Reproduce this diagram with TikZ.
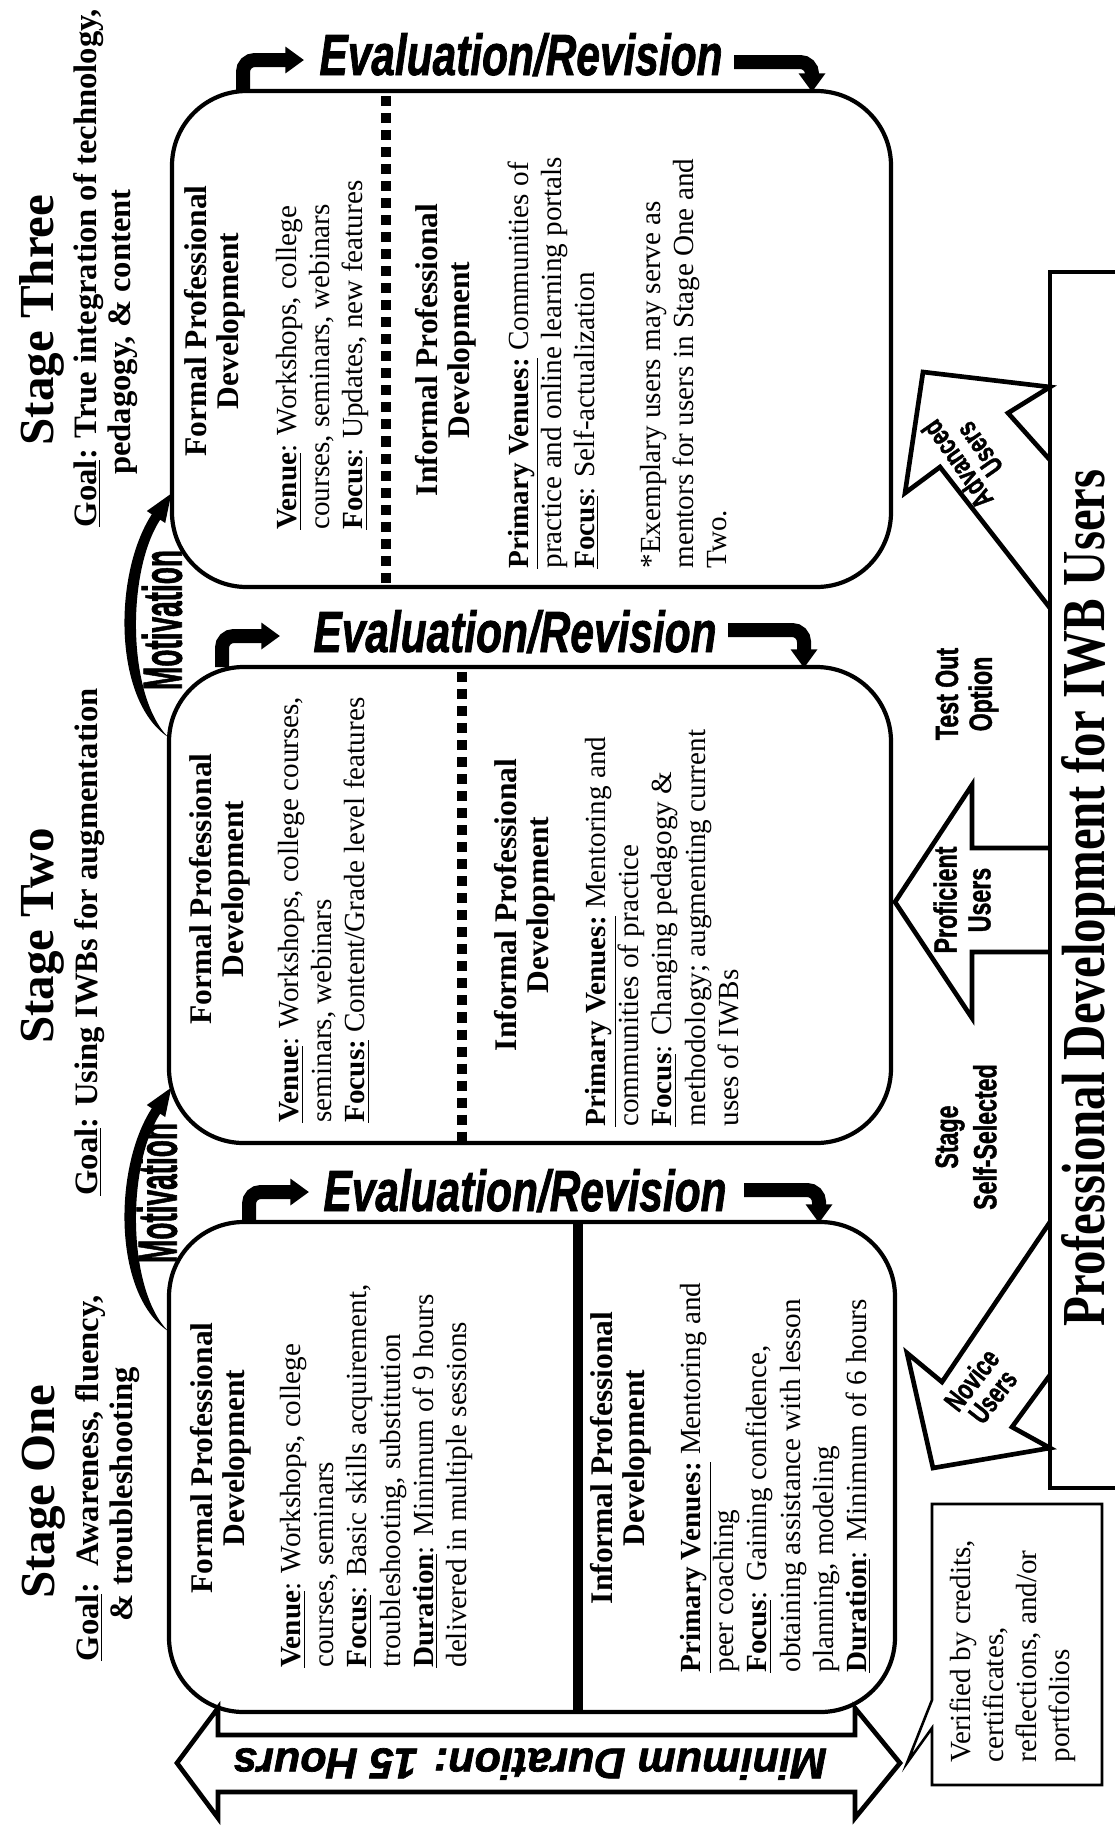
\documentclass[tikz,border=0pt]{standalone}
\usepackage{fontspec}
\usepackage{graphicx}
\setmainfont{Liberation Serif}
\setsansfont{Liberation Sans}
\newfontfamily\condf[FakeStretch=0.72, FakeBold=1.2]{Liberation Sans}
\newfontfamily\heavyf[FakeBold=1.6]{Liberation Sans}
\usetikzlibrary{arrows.meta,fit,calc}
\newlength\F \setlength\F{0.4287pt}
\tikzset{
  stagebox/.style={draw, line width=1.8pt, rounded corners=32pt, inner sep=0pt},
  divline/.style={line width=3.9pt},
  dashdiv/.style={line width=3.9pt, dash pattern=on 4.3pt off 3pt},
  sechead/.style={rotate=90, anchor=north, inner sep=0pt, align=center, font=\bfseries\fontsize{13.5}{13.8}\selectfont},
  secbody/.style={rotate=90, anchor=north west, inner sep=0pt, align=left, font=\fontsize{12.5}{14.2}\selectfont},
  stagetitle/.style={rotate=90, anchor=base, inner sep=0pt, font=\bfseries\fontsize{21}{21}\selectfont},
  goalline/.style={rotate=90, anchor=base, inner sep=0pt, font=\bfseries\fontsize{14}{14}\selectfont},
  evaltxt/.style={anchor=base, inner sep=0pt},
  hookarrow/.style={line width=6pt, rounded corners=5pt, -{Triangle[length=8pt,width=11pt]}},
  pdline/.style={line width=2pt, line join=miter},
  condlab/.style={inner sep=0pt, align=center, font=\condf\bfseries\fontsize{13.8}{14.5}\selectfont},
  smalllab/.style={inner sep=0pt, align=center, font=\condf\bfseries\fontsize{12.5}{11.5}\selectfont},
}
\newcommand{\evalword}{\resizebox{403\F}{42\F}{\heavyf\bfseries\itshape Evaluation/Revision}}
\begin{document}
\begin{tikzpicture}[x=0.4287pt, y=-0.4287pt]
\useasboundingbox (0,0) rectangle (1115,1828);
\clip (0,0) rectangle (1115,1828);
\fill[white] (0,0) rectangle (1115,1828);

% ---------- stage boxes ----------
\node[stagebox, fit={(172,91) (891,587)}] (box3) {};
\node[stagebox, fit={(169,667) (891,1143)}] (box2) {};
\node[stagebox, fit={(169,1222) (895,1712)}] (box1) {};

\coordinate (d1) at (578,0);
\coordinate (d2) at (462,0);
\coordinate (d3) at (386,0);
\draw[divline] ([yshift=-0.9pt]box1.north -| d1) -- ([yshift=0.9pt]box1.south -| d1);
\draw[dashdiv] ([yshift=-3pt]box2.north -| d2) -- ([yshift=1pt]box2.south -| d2);
\draw[dashdiv] ([yshift=-3pt]box3.north -| d3) -- ([yshift=1pt]box3.south -| d3);

% ---------- stage titles ----------
\node[stagetitle] (s1) at (55,1492) {Stage One};
\node[goalline] (g1a) at (98,1478) {\underline{Goal}:\ \ Awareness, fluency,};
\node[goalline] (g1b) at (132,1494) {\& troubleshooting};
\node[stagetitle] (s2) at (54,936) {Stage Two};
\node[goalline] (g2a) at (97,942) {\underline{Goal}: Using IWBs for augmentation};
\node[stagetitle] (s3) at (54,320) {Stage Three};
\node[goalline] (g3a) at (96,268) {\underline{Goal}: True integration of technology,};
\node[goalline] (g3b) at (130,332) {pedagogy, \& content};

% ---------- stage one text ----------
\node[sechead] (h1f) at (190,1458) {Formal Professional\\Development};
\node[secbody] (b1f) at (280,1668) {\underline{\textbf{Venue}}: Workshops, college\\courses, seminars\\\underline{\textbf{Focus}}: Basic skills acquirement,\\troubleshooting, substitution\\\underline{\textbf{Duration}}: Minimum of 9 hours\\delivered in multiple sessions};
\node[sechead] (h1i) at (590,1458) {Informal Professional\\Development};
\node[secbody] (b1i) at (680,1673) {\underline{\textbf{Primary Venues:}} Mentoring and\\peer coaching\\\underline{\textbf{Focus}}: Gaining confidence,\\obtaining assistance with lesson\\planning, modeling\\\underline{\textbf{Duration}}: Minimum of 6 hours};

% ---------- stage two text ----------
\node[sechead] (h2f) at (189,889) {Formal Professional\\Development};
\node[secbody] (b2f) at (278,1123) {\underline{\textbf{Venue}}: Workshops, college courses,\\seminars, webinars\\\underline{\textbf{Focus:}} Content/Grade level features};
\node[sechead] (h2i) at (494,905) {Informal Professional\\Development};
\node[secbody] (b2i) at (585,1127) {\underline{\textbf{Primary Venues:}} Mentoring and\\communities of practice\\\underline{\textbf{Focus}}: Changing pedagogy \&\\methodology; augmenting current\\uses of IWBs};

% ---------- stage three text ----------
\node[sechead] (h3f) at (184,321) {Formal Professional\\Development};
\node[secbody] (b3f) at (276,530) {\underline{\textbf{Venue}}: Workshops, college\\courses, seminars, webinars\\\underline{\textbf{Focus}}: Updates, new features};
\node[sechead] (h3i) at (415,350) {Informal Professional\\Development};
\node[secbody] (b3i) at (507,569) {\underline{\textbf{Primary Venues:}} Communities of\\practice and online learning portals\\\underline{\textbf{Focus}}: Self-actualization\\[14pt]*Exemplary users may serve as\\mentors for users in Stage One and\\Two.};

% ---------- evaluation / revision ----------
\node[evaltxt] (e3) at (521,75) {\evalword};
\node[evaltxt] (e2) at (515,652) {\evalword};
\node[evaltxt] (e1) at (525,1211) {\evalword};

\coordinate (h3a) at (243,91);  \coordinate (h3b) at (243,60);  \coordinate (h3c) at (304,60);
\coordinate (r3a) at (734,62);  \coordinate (r3b) at (812,62);  \coordinate (r3c) at (812,92);
\coordinate (h2a) at (222,667); \coordinate (h2b) at (222,636); \coordinate (h2c) at (280,636);
\coordinate (r2a) at (728,630); \coordinate (r2b) at (804,630); \coordinate (r2c) at (804,668);
\coordinate (h1a) at (249,1222);\coordinate (h1b) at (249,1192);\coordinate (h1c) at (309,1192);
\coordinate (r1a) at (744,1190);\coordinate (r1b) at (819,1190);\coordinate (r1c) at (819,1223);
\draw[hookarrow] (h3a) -- (h3b) -- (h3c);
\draw[hookarrow] (r3a) -- (r3b) -- (r3c);
\draw[hookarrow] (h2a) -- (h2b) -- (h2c);
\draw[hookarrow] (r2a) -- (r2b) -- (r2c);
\draw[hookarrow] (h1a) -- (h1b) -- (h1c);
\draw[hookarrow] (r1a) -- (r1b) -- (r1c);

% ---------- motivation arrows ----------
\coordinate (mot2from) at (168,737);
\coordinate (mot2to) at (171.3,493.6);
\fill (mot2from) .. controls (113,700) and (113,574) .. (151.8,514.3) -- (146.8,511) -- (mot2to) -- (165.2,523) -- (160.2,519.7) .. controls (126.4,571.5) and (127,695) .. (mot2from) -- cycle;
\begin{scope}[shift={(0,594)}]
\coordinate (mot1from) at (168,737);
\coordinate (mot1to) at (171.3,493.6);
\fill (mot1from) .. controls (113,700) and (113,574) .. (151.8,514.3) -- (146.8,511) -- (mot1to) -- (165.2,523) -- (160.2,519.7) .. controls (126.4,571.5) and (127,695) .. (mot1from) -- cycle;
\end{scope}
\node[rotate=90, inner sep=0pt] (mot2) at (162,620) {\resizebox{140\F}{40\F}{\heavyf\bfseries Motivation}};
\node[rotate=90, inner sep=0pt] (mot1) at (157,1193) {\resizebox{140\F}{40\F}{\heavyf\bfseries Motivation}};

% ---------- professional development box ----------
\node[draw, line width=2pt, fit={(1050,272) (1145,1488)}, inner sep=0pt] (pdbox) {};
\node[rotate=90, anchor=base, inner sep=0pt] (pdtitle) at (1104,898) {\resizebox{857\F}{43\F}{\bfseries Professional Development for IWB Users}};

\draw[pdline] (1050,608) -- (940,467) -- (905,493) -- (923,372) -- (1050,387) -- (1008,413) -- (1050,460);
\draw[pdline] (1050,848) -- (972,848) -- (972,785) -- (895,902) -- (972,1018) -- (972,952) -- (1050,952);
\draw[pdline] (1050,1222) -- (942,1382) -- (907,1353) -- (933,1468) -- (1050,1448) -- (1012,1427) -- (1050,1375);

\node[smalllab, rotate=125] (adv) at (968,457) {Advanced\\Users};
\node[condlab, rotate=90] (prof) at (962,900) {Proficient\\Users};
\node[smalllab, rotate=52] (nov) at (982,1388) {Novice\\Users};
\node[condlab, rotate=90] (tout) at (967,694) {Test Out\\Option};
\node[condlab, rotate=90, font=\condf\bfseries\fontsize{13.8}{16.5}\selectfont] (ssel) at (966,1137) {Stage\\Self-Selected};

% ---------- minimum duration arrow ----------
\draw[line width=2pt, line join=miter] (177,1763) -- (218,1708) -- (218,1735) -- (855,1735) -- (855,1708) -- (900,1763) -- (855,1818) -- (855,1792) -- (218,1792) -- (218,1818) -- cycle;
\node[rotate=180, inner sep=0pt, font=\heavyf\bfseries\itshape\fontsize{18.5}{18.5}\selectfont] (mindur) at (530,1764) {Minimum Duration: 15 Hours};

% ---------- verified callout ----------
\draw[line width=1.1pt, line join=miter] (932,1504) -- (1102,1504) -- (1102,1785) -- (932,1785) -- (932,1728) -- (907,1763) -- (932,1700) -- cycle;
\node[secbody] (vtext) at (949,1763) {Verified by credits,\\certificates,\\reflections, and/or\\portfolios};
\end{tikzpicture}
\end{document}
